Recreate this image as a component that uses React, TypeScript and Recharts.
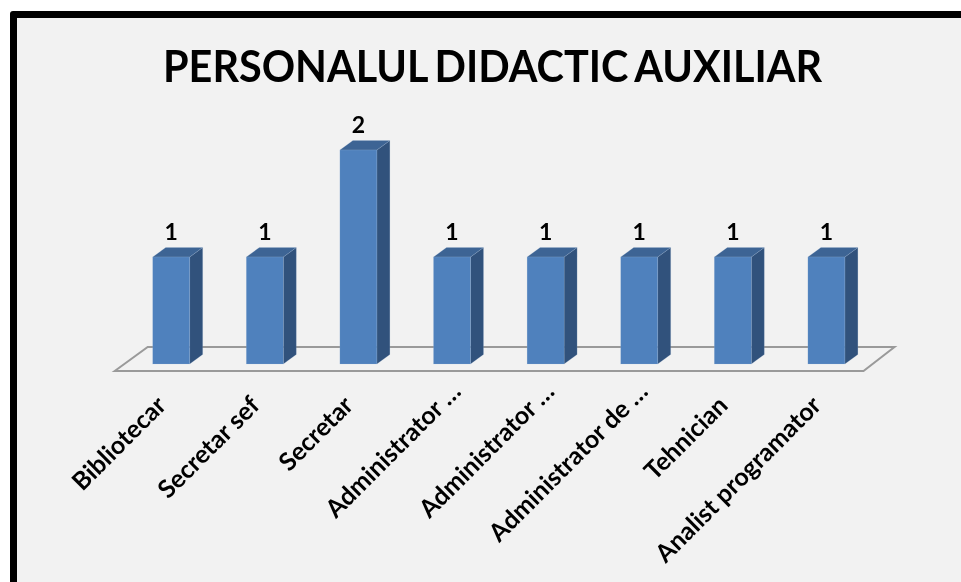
import { BarChart, Bar, XAxis, YAxis, LabelList, usePlotArea } from 'recharts'

const TITLE = 'PERSONALUL DIDACTIC AUXILIAR'
const categories = [
  'Bibliotecar',
  'Secretar sef',
  'Secretar',
  'Administrator …',
  'Administrator …',
  'Administrator de …',
  'Tehnician',
  'Analist programator',
]
const values = [1, 1, 2, 1, 1, 1, 1, 1]
const data = categories.map((name, i) => ({ name, value: values[i] }))

const FONT = 'Lato, "Open Sans", sans-serif'
const DEPTH_X = 13
const DEPTH_Y = 9.5

// 3D column: front face, top and right side
function Column3D(p: any) {
  const { x, y, width, height } = p
  const r = x + width
  const b = y + height
  return (
    <g stroke="#a9bfdb" strokeWidth={0.5} strokeOpacity={0.35}>
      <polygon points={`${r},${y} ${r + DEPTH_X},${y - DEPTH_Y} ${r + DEPTH_X},${b - DEPTH_Y} ${r},${b}`} fill="#31527c" />
      <polygon points={`${x},${y} ${x + DEPTH_X},${y - DEPTH_Y} ${r + DEPTH_X},${y - DEPTH_Y} ${r},${y}`} fill="#3d6494" />
      <rect x={x} y={y} width={width} height={height} fill="#4f81bd" />
    </g>
  )
}

// chart floor, placed relative to the plot area
function Floor() {
  const plot = usePlotArea()
  if (!plot) return null
  const b = plot.y + plot.height
  const l = plot.x
  const r = plot.x + plot.width
  return (
    <polygon
      points={`${l - 10},${b + 7} ${l + 23},${b - 17} ${r + 21},${b - 17} ${r - 10},${b + 7}`}
      fill="none"
      stroke="#9a9a9a"
      strokeWidth={2}
    />
  )
}

function CategoryTick({ x, y, payload }: any) {
  // truncated labels run further up-right in the original
  const cut = payload.value.endsWith('…')
  return (
    <text
      transform={`translate(${cut ? x + 10 : x - 4},${cut ? y + 21 : y + 35}) rotate(-45)`}
      textAnchor="end"
      fontFamily={FONT}
      fontSize={25}
      fontWeight={700}
      fill="#000"
    >
      {payload.value}
    </text>
  )
}

export default function App() {
  return (
    <div style={{ position: 'absolute', left: 0, top: 0, width: 961, height: 582, overflow: 'hidden', background: '#fff' }}>
      <div
        style={{
          position: 'absolute',
          left: 10,
          top: 11,
          width: 1000,
          height: 700,
          border: '7px solid #000',
          borderRadius: 3,
          background: '#f2f2f2',
        }}
      />
      <div style={{ position: 'absolute', left: 0, top: 0, filter: 'blur(0.6px)' }}>
        <BarChart
          width={961}
          height={582}
          data={data}
          margin={{ top: 150, right: 87.5, bottom: 0, left: 124.7 }}
        >
          <Floor />
          <text
            x={163}
            y={82}
            fontFamily={FONT}
            fontSize={44}
            fontWeight={700}
            wordSpacing={-3}
            textLength={659}
            lengthAdjust="spacingAndGlyphs"
            fill="#000"
          >
            {TITLE}
          </text>
          <XAxis dataKey="name" height={218} interval={0} axisLine={false} tickLine={false} tick={<CategoryTick />} />
          <YAxis hide domain={[0, 2]} />
          <Bar dataKey="value" barSize={37} shape={<Column3D />} isAnimationActive={false}>
            <LabelList dataKey="value" position="top" offset={17} fontFamily={FONT} fontSize={23} fontWeight={700} fill="#000" />
          </Bar>
        </BarChart>
      </div>
    </div>
  )
}
